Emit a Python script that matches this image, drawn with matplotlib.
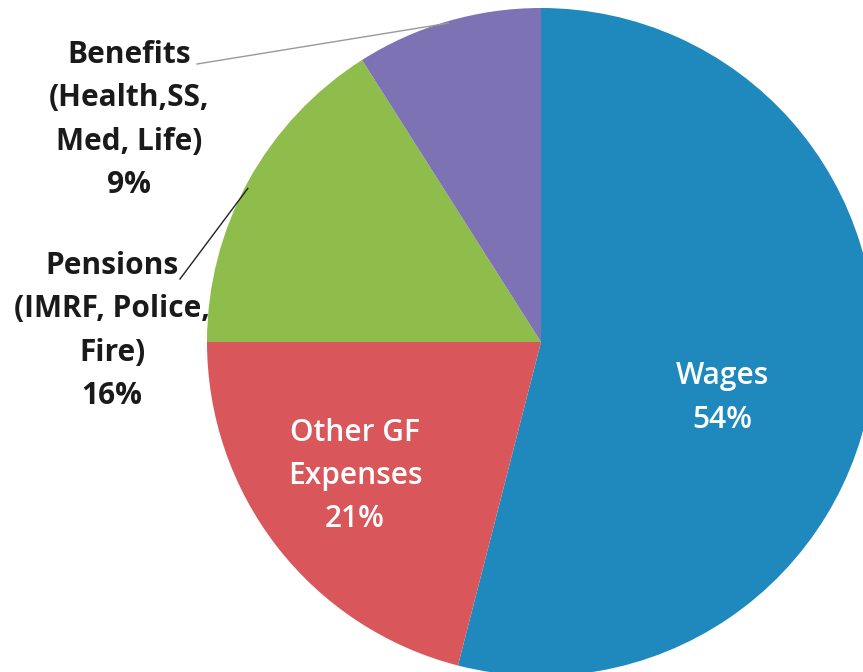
import numpy as np
import matplotlib.pyplot as plt

# share of general fund spending
categories = ["Wages", "Other GF\nExpenses", "Pensions\n(IMRF, Police,\nFire)", "Benefits\n(Health,SS,\nMed, Life)"]
shares = [54, 21, 16, 9]
colors = ["#1F89BE", "#D9575B", "#8EBD4B", "#7D72B3"]

W, H = 863, 672
fig = plt.figure(figsize=(W / 100, H / 100), dpi=100)
ax = fig.add_axes([0, 0, 1, 1])

cx, cy, r = 541, H - 342, 334
wedges, _ = ax.pie(
    shares,
    colors=colors,
    startangle=90,
    counterclock=False,
    radius=r,
    center=(cx, cy),
    frame=True,
)
ax.set_xlim(0, W)
ax.set_ylim(0, H)
ax.set_aspect("equal")
ax.axis("off")

font = "Open Sans"
labels = [f"{c}\n{s}%" for c, s in zip(categories, shares)]

# inside labels (white)
ax.text(722, H - 398, labels[0], ha="center", va="center", color="white",
        fontsize=21.5, family=font, fontweight="semibold", linespacing=1.58)
ax.text(355, H - 476, labels[1], ha="center", va="center", color="white",
        fontsize=21.5, family=font, fontweight="semibold", linespacing=1.58)

# outside labels (black, bold)
ax.text(112, H - 331, labels[2], ha="center", va="center", color="#1a1a1a",
        fontsize=21.5, family=font, fontweight="bold", linespacing=1.58)
ax.text(129, H - 120, labels[3], ha="center", va="center", color="#1a1a1a",
        fontsize=21.5, family=font, fontweight="bold", linespacing=1.58)


def edge_point(w, shrink=0.0, frac=0.5):
    ang = np.deg2rad(w.theta1 + frac * (w.theta2 - w.theta1))
    rr = r - shrink
    return cx + rr * np.cos(ang), cy + rr * np.sin(ang)


# leader lines
ex, ey = edge_point(wedges[3], 2)
ax.plot([197, ex], [H - 64, ey], color="#9a9a9a", lw=1.0)
ex, ey = edge_point(wedges[2], 3, 0.52)
ax.plot([180, ex], [H - 279, ey], color="#222222", lw=1.0)

fig.savefig("out.png", dpi=100)
